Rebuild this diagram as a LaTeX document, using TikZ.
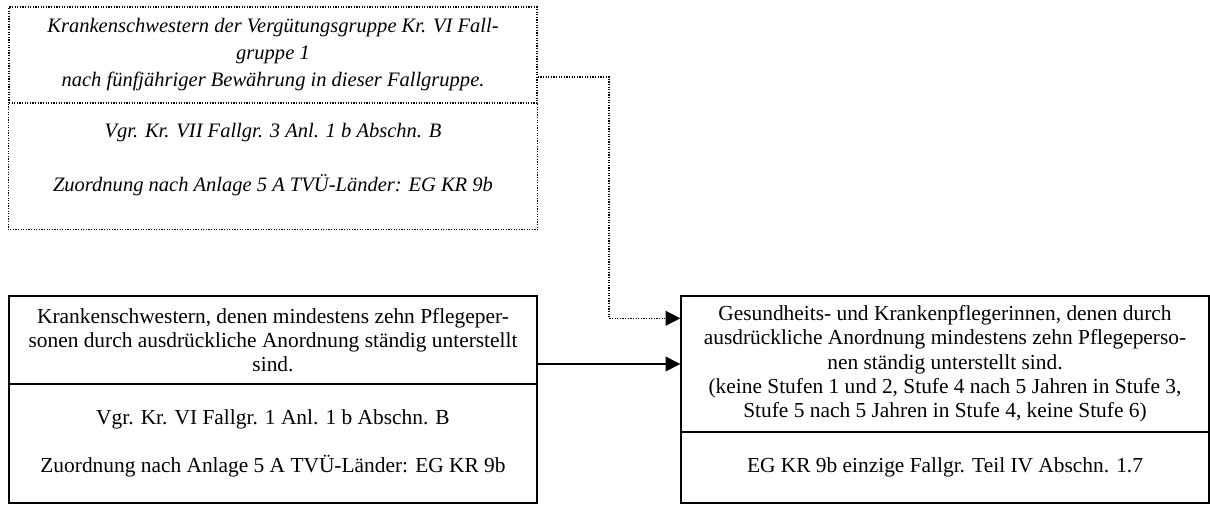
\documentclass[tikz,border=0pt]{standalone}
\usepackage{fontspec}
\setmainfont{Liberation Serif}
\usetikzlibrary{arrows.meta,calc}

\begin{document}
\begin{tikzpicture}[
  x=0.575pt, y=-0.575pt,
  part/.style     = {draw, line width=0.8pt, inner sep=2pt, align=center,
                     minimum width=303.6pt,
                     font=\fontsize{12.3}{14}\selectfont},
  dots/.style     = {line width=0.8pt, dash pattern=on 0.7pt off 0.8pt},
  vorher/.style   = {part, dots,
                     font=\fontsize{11.8}{15.5}\selectfont\itshape},
                      % the earlier grouping is drawn dotted and set in italics
  arrow/.style    = {line width=0.8pt, -{Triangle[length=8.5pt,width=8.5pt]}},
  dotarrow/.style = {arrow, dots},
]
  \useasboundingbox (0,0) rectangle (1210,504);

  \node[vorher, minimum height=55.2pt] (aufHead) at (273,55)
    {Krankenschwestern der Vergütungsgruppe Kr. VI Fall-\\gruppe 1\\nach fünfjähriger Bewährung in dieser Fallgruppe.};
  \node[vorher, draw=none, minimum height=72.5pt] (aufBody) at (273,166)
    {Vgr. Kr. VII Fallgr. 3 Anl. 1 b Abschn. B\\[15.5pt]Zuordnung nach Anlage 5 A TVÜ-Länder: EG KR 9b\\[-6pt]\mbox{}};
  % body frame drawn open at the top, so the shared dotted edge is not doubled
  \draw[dots] (aufHead.south west) -- (aufBody.south west) -- (aufBody.south east) -- (aufHead.south east);

  \node[part, minimum height=50.6pt] (altHead) at (273,340)
    {Krankenschwestern, denen mindestens zehn Pflegeper-\\sonen durch ausdrückliche Anordnung ständig unterstellt\\sind.};
  \node[part, minimum height=68.4pt] (altBody) at (273,443.5)
    {Vgr. Kr. VI Fallgr. 1 Anl. 1 b Abschn. B\\[14pt]Zuordnung nach Anlage 5 A TVÜ-Länder: EG KR 9b};

  \node[part, minimum height=78.2pt] (neuHead) at (945,364)
    {Gesundheits- und Krankenpflegerinnen, denen durch\\ausdrückliche Anordnung mindestens zehn Pflegeperso-\\nen ständig unterstellt sind.\\(keine Stufen 1 und 2, Stufe 4 nach 5 Jahren in Stufe 3,\\Stufe 5 nach 5 Jahren in Stufe 4, keine Stufe 6)};
  \node[part, minimum height=40.8pt] (neuBody) at (945,467.5)
    {EG KR 9b einzige Fallgr. Teil IV Abschn. 1.7};

  % the dotted route leaves the header low and enters the new header high
  \coordinate (knick) at (609,77);
  \draw[dotarrow] (aufHead.east |- knick) -- (knick) |- ($(neuHead.north west)+(0,23)$);
  \draw[arrow] (altHead.east |- neuHead.west) -- (neuHead.west);
\end{tikzpicture}
\end{document}
